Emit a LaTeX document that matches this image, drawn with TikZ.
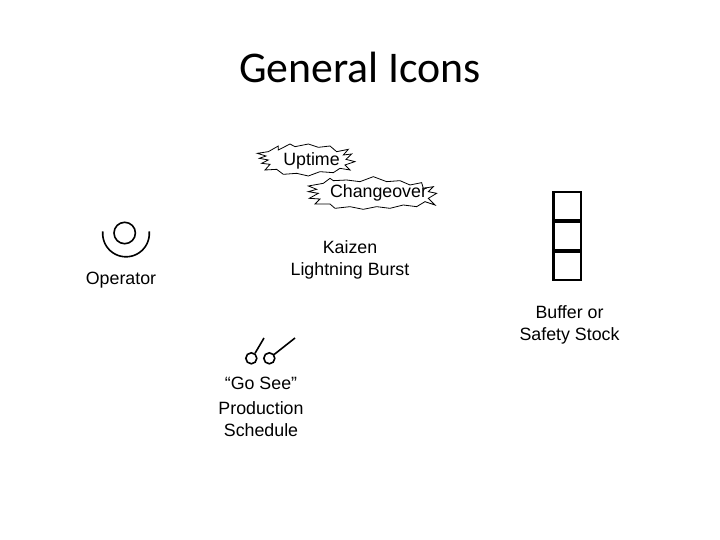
\documentclass[tikz,border=0pt]{standalone}
\usepackage{fontspec}
\setmainfont{Liberation Sans}
\newfontfamily\titlefont{Carlito}
\begin{document}
\begin{tikzpicture}[x=1pt,y=-1pt,
  label/.style={inner sep=0pt,align=center,font=\fontsize{17.8}{22}\selectfont,text=black},
  burst/.style={draw=black,line width=0.8pt,fill=white,line join=miter},
  icon/.style={draw=black,line width=1.6pt}]
\useasboundingbox (0,0) rectangle (720,540);
\fill[white] (0,0) rectangle (720,540);
\node[inner sep=0pt,font=\titlefont\fontsize{43.8}{50}\selectfont,text=black] (title) at (360,67) {General Icons};
% Uptime burst
\begin{scope}[shift={(240,130)},x=0.3333pt,y=-0.3333pt]
\draw[burst] (85,65)--(52,70)--(78,78)--(58,85)--(85,90)--(65,100)--(90,103)--(75,120)--(110,118)--(130,133)--(170,130)--(205,138)--(240,125)--(280,128)--(300,115)--(330,120)--(315,105)--(345,95)--(318,88)--(335,72)--(310,75)--(325,58)--(290,65)--(270,48)--(235,52)--(205,42)--(165,50)--(150,42)--(115,60)--(115,48)--cycle;
\draw[burst] (250,160)--(205,168)--(230,178)--(205,185)--(235,190)--(208,205)--(240,207)--(225,222)--(270,222)--(285,235)--(330,230)--(370,238)--(410,230)--(450,235)--(490,225)--(530,230)--(555,215)--(585,225)--(565,205)--(590,190)--(565,185)--(580,170)--(550,175)--(545,158)--(510,165)--(480,152)--(440,155)--(400,140)--(360,155)--(320,150)--(280,152)--(270,145)--cycle;
\end{scope}
\node[label] (uptime) at (311.5,161) {Uptime};
\node[label] (changeover) at (378.5,193) {Changeover};
\node[label] (kaizen) at (350,259.5) {Kaizen\\Lightning Burst};
% Operator
\draw[icon] (124.7,233) circle[radius=10.7];
\draw[icon,smooth] plot[domain=-5:185,samples=40] ({126+23.3*cos(\x)},{233.5+23.3*sin(\x)});
\node[label] (operator) at (121,280) {Operator};
% Buffer
\draw[draw=black,line width=2.8pt] (553.3,192) rectangle (581,280);
\draw[draw=black,line width=4pt] (553.3,220.7) -- (581,220.7);
\draw[draw=black,line width=4pt] (553.3,250.7) -- (581,250.7);
\node[label] (buffer) at (569.5,324.5) {Buffer or\\Safety Stock};
% Go See
\draw[icon] (251.3,358.3) circle[radius=5.5];
\draw[icon] (269.3,358.3) circle[radius=5.5];
\draw[icon] (255,353.3) -- (264,338);
\draw[icon] (273.5,355) -- (295,338);
\node[label] (gosee) at (261,406.5) {“Go See”\\[3pt]Production\\Schedule};
\end{tikzpicture}
\end{document}
